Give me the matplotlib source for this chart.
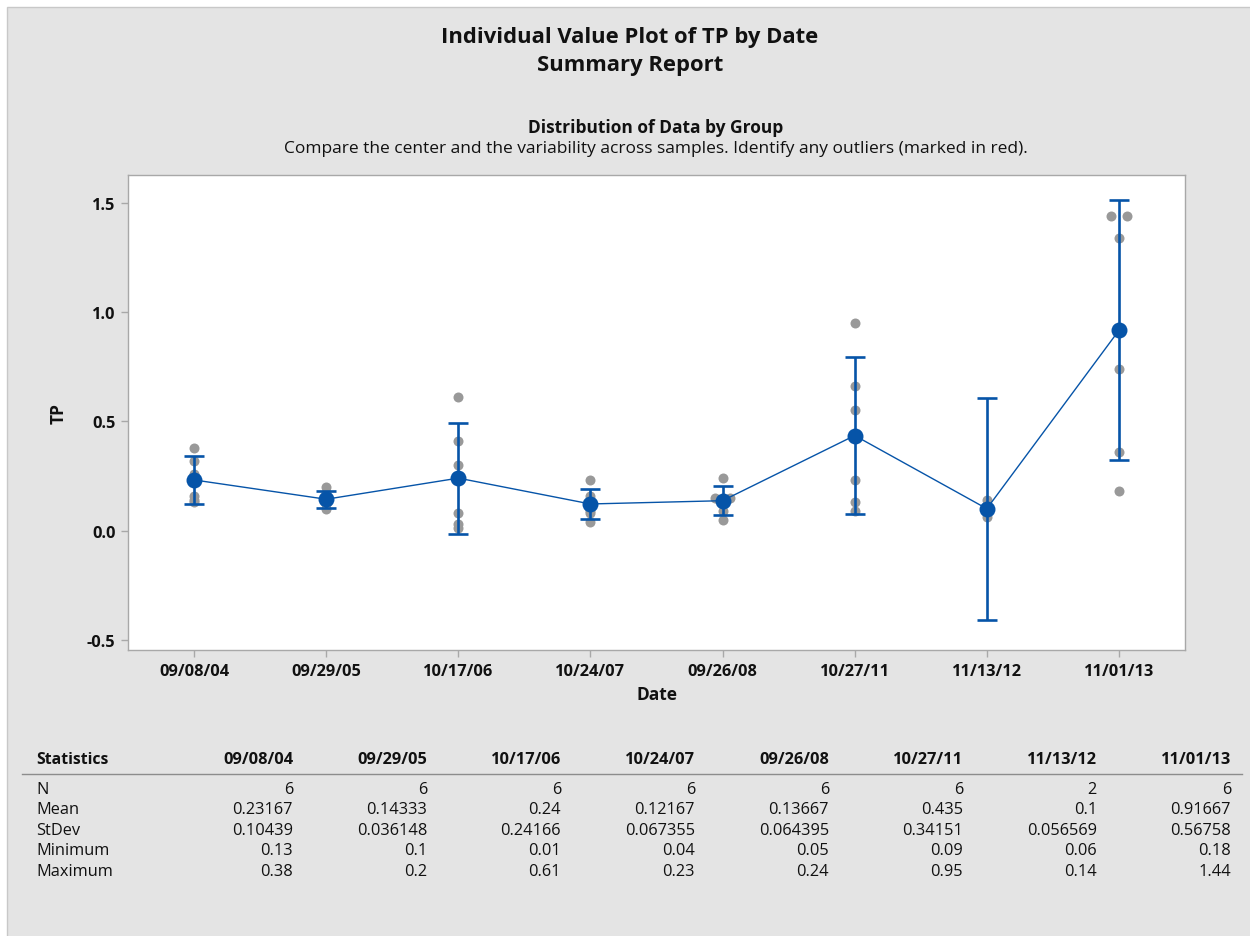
import matplotlib
matplotlib.use("Agg")
import matplotlib.pyplot as plt
from matplotlib.patches import Rectangle
import numpy as np
import statistics

plt.rcParams['font.family'] = ['Open Sans', 'DejaVu Sans']
plt.rcParams['axes.unicode_minus'] = False

# ---- data ----
dates = ["09/08/04", "09/29/05", "10/17/06", "10/24/07",
         "09/26/08", "10/27/11", "11/13/12", "11/01/13"]
g_090804 = [0.38, 0.32, 0.26, 0.16, 0.14, 0.13]
g_092905 = [0.20, 0.17, 0.14, 0.13, 0.12, 0.10]
g_101706 = [0.61, 0.41, 0.30, 0.08, 0.03, 0.01]
g_102407 = [0.23, 0.16, 0.13, 0.09, 0.08, 0.04]
g_092608 = [0.24, 0.15, 0.15, 0.14, 0.09, 0.05]
g_102711 = [0.95, 0.66, 0.55, 0.23, 0.13, 0.09]
g_111312 = [0.14, 0.06]
g_110113 = [1.44, 1.44, 1.34, 0.74, 0.36, 0.18]
groups = [g_090804, g_092905, g_101706, g_102407,
          g_092608, g_102711, g_111312, g_110113]
# two-sided 95% t critical values by degrees of freedom
t_crit = {1: 12.706205, 5: 2.570582}

yticks = [-0.5, 0.0, 0.5, 1.0, 1.5]
stat_names = ["N", "Mean", "StDev", "Minimum", "Maximum"]

# ---- derived statistics ----
ns = [len(g) for g in groups]
means = [statistics.mean(g) for g in groups]
sds = [statistics.stdev(g) for g in groups]
mins = [min(g) for g in groups]
maxs = [max(g) for g in groups]
ci = [t_crit[n - 1] * s / np.sqrt(n) for n, s in zip(ns, sds)]

W, H = 1250, 937
fig = plt.figure(figsize=(W / 100, H / 100), dpi=100)
fig.patch.set_facecolor("white")
bg = "#e4e4e4"
bgrect = Rectangle((7 / W, -0.05), 1.1, 1.05 - 8 / H,
                   transform=fig.transFigure, facecolor=bg,
                   edgecolor="#c8c8c8", linewidth=1.0, zorder=-10)
fig.patches.append(bgrect)

txt = "#111111"
# titles
fig.text(630 / W, 1 - 38 / H, "Individual Value Plot of TP by Date",
         ha="center", va="center", fontsize=15.8, fontweight="bold", color=txt)
fig.text(630 / W, 1 - 65 / H, "Summary Report",
         ha="center", va="center", fontsize=15.8, fontweight="bold", color=txt)
fig.text(656 / W, 1 - 128 / H, "Distribution of Data by Group",
         ha="center", va="center", fontsize=12.5, fontweight="bold", color=txt)
fig.text(656 / W, 1 - 149 / H,
         "Compare the center and the variability across samples. Identify any outliers (marked in red).",
         ha="center", va="center", fontsize=12.5, color=txt)

# axes
ax = fig.add_axes([128 / W, 1 - 651 / H, (1185 - 128) / W, (651 - 176) / H])
ax.set_zorder(1)
ax.set_facecolor("white")
x = np.arange(len(dates))

blue = "#0654a8"
gray_pt = "#999999"

# individual points (duplicates side by side)
for i, g in enumerate(groups):
    vals = np.array(g)
    xs = np.full(len(vals), float(i))
    uniq, counts = np.unique(vals, return_counts=True)
    for u, c in zip(uniq, counts):
        if c > 1:
            idx = np.where(vals == u)[0]
            offs = np.linspace(-0.06, 0.06, c)
            xs[idx] = i + offs
    ax.plot(xs, vals, "o", color=gray_pt, markersize=7.2,
            markeredgewidth=0, zorder=2)

# CI error bars
ax.errorbar(x, means, yerr=ci, fmt="none", ecolor=blue, elinewidth=1.9,
            capsize=7.5, capthick=1.9, zorder=3)
# mean connect line and markers
ax.plot(x, means, "-", color=blue, linewidth=1.0, zorder=4)
ax.plot(x, means, "o", color=blue, markersize=11.5, markeredgewidth=0, zorder=5)

ax.set_xlim(-0.5, 7.5)
ax.set_ylim(-0.547, 1.628)
ax.set_xticks(x)
ax.set_xticklabels(dates, fontweight="bold", fontsize=11.8)
ax.set_yticks(yticks)
ax.set_yticklabels([f"{v:.1f}" for v in yticks], fontweight="bold", fontsize=11.8)
for s in ax.spines.values():
    s.set_color("#a8a8a8")
    s.set_linewidth(1.0)
ax.tick_params(direction="out", length=5, width=1, color="#a8a8a8",
               labelcolor=txt, pad=4)
ax.set_xlabel("Date", fontweight="bold", fontsize=12.5, labelpad=5, color=txt)
ax.set_ylabel("TP", fontweight="bold", fontsize=12.5, labelpad=14, color=txt)

# statistics table
col_right = [293 + 134 * i for i in range(len(dates))]
fig.text(36 / W, 1 - 760 / H, "Statistics", ha="left", va="center",
         fontsize=11.3, fontweight="bold", color=txt)
for cx, d in zip(col_right, dates):
    fig.text(cx / W, 1 - 760 / H, d, ha="right", va="center",
             fontsize=11.8, fontweight="bold", color=txt)
fig.add_artist(plt.Line2D([22 / W, 1242 / W], [1 - 775 / H, 1 - 775 / H],
                          transform=fig.transFigure, color="#8c8c8c", linewidth=1.0))

def fmt(v):
    return f"{v:.5g}"

rows = [
    [str(n) for n in ns],
    [fmt(v) for v in means],
    [fmt(v) for v in sds],
    [fmt(v) for v in mins],
    [fmt(v) for v in maxs],
]
row_y = [790, 810.5, 831, 851.5, 872]
for name, vals, ry in zip(stat_names, rows, row_y):
    fig.text(36 / W, 1 - ry / H, name, ha="left", va="center",
             fontsize=11.8, color=txt)
    for cx, v in zip(col_right, vals):
        fig.text(cx / W, 1 - ry / H, v, ha="right", va="center",
                 fontsize=11.8, color=txt)

fig.savefig("out.png", dpi=100, facecolor=fig.get_facecolor())
